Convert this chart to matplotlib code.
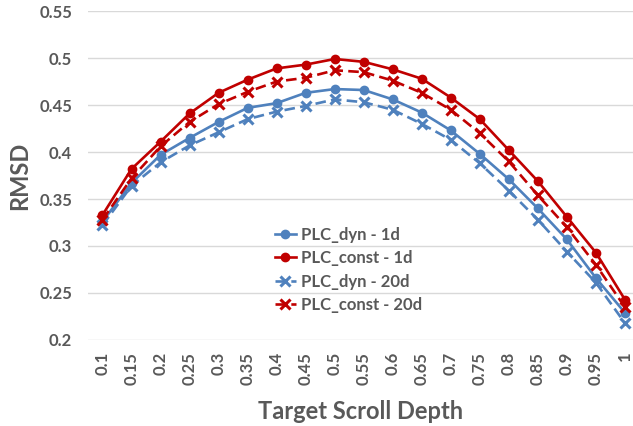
import numpy as np
import matplotlib
matplotlib.use("Agg")
import matplotlib.pyplot as plt

depth = ["0.1", "0.15", "0.2", "0.25", "0.3", "0.35", "0.4", "0.45", "0.5", "0.55",
         "0.6", "0.65", "0.7", "0.75", "0.8", "0.85", "0.9", "0.95", "1"]

dyn_1d = [0.326, 0.367, 0.397, 0.415, 0.432, 0.447, 0.452, 0.463, 0.467, 0.466,
          0.456, 0.442, 0.423, 0.398, 0.371, 0.340, 0.307, 0.266, 0.229]
const_1d = [0.333, 0.382, 0.411, 0.441, 0.463, 0.477, 0.489, 0.493, 0.499, 0.496,
            0.488, 0.478, 0.458, 0.435, 0.402, 0.369, 0.331, 0.293, 0.243]
dyn_20d = [0.322, 0.364, 0.389, 0.407, 0.421, 0.435, 0.443, 0.449, 0.456, 0.453,
           0.445, 0.430, 0.413, 0.388, 0.359, 0.328, 0.294, 0.261, 0.218]
const_20d = [0.328, 0.372, 0.406, 0.432, 0.451, 0.464, 0.475, 0.479, 0.487, 0.485,
             0.476, 0.463, 0.445, 0.420, 0.390, 0.354, 0.320, 0.280, 0.235]

blue = "#4F81BD"
red = "#C00000"
grey = "#595959"

plt.rcParams['font.family'] = ['Lato', 'DejaVu Sans']
plt.rcParams['font.weight'] = 'bold'

fig = plt.figure(figsize=(6.33, 4.26), dpi=100)
ax = fig.add_axes([0.139, 0.202, 0.861, 0.772])

x = np.arange(len(depth))
ax.plot(x, dyn_1d, color=blue, lw=1.9, marker='o', ms=6, label="PLC_dyn - 1d")
ax.plot(x, const_1d, color=red, lw=1.9, marker='o', ms=6, label="PLC_const - 1d")
ax.plot(x, dyn_20d, color=blue, lw=1.9, ls=(0, (4, 2)), marker='x', ms=6.5, mew=2.2,
        label="PLC_dyn - 20d")
ax.plot(x, const_20d, color=red, lw=1.9, ls=(0, (4, 2)), marker='x', ms=6.5, mew=2.2,
        label="PLC_const - 20d")

ax.set_xlim(-0.5, 18.28)
ax.set_ylim(0.2, 0.55)
ax.set_yticks(np.arange(0.2, 0.551, 0.05))
ax.set_yticklabels(["0.2", "0.25", "0.3", "0.35", "0.4", "0.45", "0.5", "0.55"])
ax.set_xticks(x)
ax.set_xticklabels(depth, rotation=90)
ax.tick_params(length=0, colors=grey, labelsize=12)
ax.tick_params(axis='x', pad=8.5)
ax.tick_params(axis='y', pad=11.5)
ax.grid(axis='y', color="#D9D9D9", lw=1)
ax.set_axisbelow(True)
for s in ax.spines.values():
    s.set_visible(False)

ax.set_ylabel("RMSD", fontsize=17, color=grey, fontweight='bold', labelpad=6)
ax.set_xlabel("Target Scroll Depth", fontsize=17, color=grey, fontweight='bold', labelpad=11)

leg = ax.legend(loc='upper left', bbox_to_anchor=(0.33, 0.365), frameon=False,
                fontsize=12, handlelength=1.3, handletextpad=0.3, labelspacing=0.45,
                borderaxespad=0)
for t in leg.get_texts():
    t.set_color(grey)

fig.savefig("out.png", dpi=100)
